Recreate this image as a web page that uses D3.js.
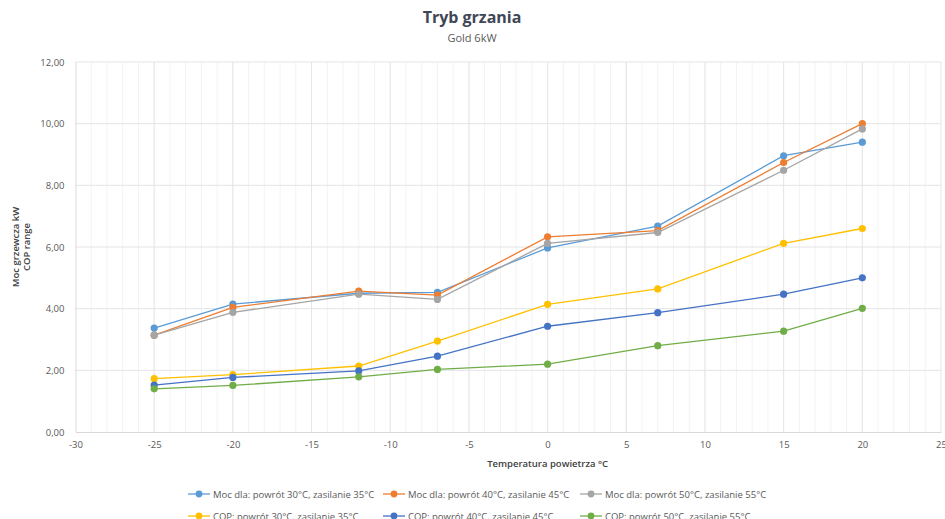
<!DOCTYPE html>
<html><head><meta charset="utf-8">
<script src="https://cdn.jsdelivr.net/npm/d3@7"></script>
<style>
body{margin:0;background:#fff;}
svg{display:block;font-family:"Open Sans",sans-serif;}
</style></head>
<body>
<svg id="c" width="945" height="519"></svg>
<script>
const temps = [-25, -20, -12, -7, 0, 7, 15, 20];
const seriesNames = [
  "Moc dla: powrót 30°C, zasilanie 35°C",
  "Moc dla: powrót 40°C, zasilanie 45°C",
  "Moc dla: powrót 50°C, zasilanie 55°C",
  "COP: powrót 30°C, zasilanie 35°C",
  "COP: powrót 40°C, zasilanie 45°C",
  "COP: powrót 50°C, zasilanie 55°C"
];
const moc30 = [3.37, 4.15, 4.50, 4.53, 5.97, 6.68, 8.96, 9.40];
const moc40 = [3.14, 4.04, 4.57, 4.44, 6.33, 6.53, 8.74, 10.00];
const moc50 = [3.14, 3.88, 4.47, 4.30, 6.12, 6.47, 8.49, 9.83];
const cop30 = [1.73, 1.86, 2.14, 2.95, 4.14, 4.64, 6.12, 6.60];
const cop40 = [1.52, 1.77, 1.98, 2.46, 3.43, 3.87, 4.47, 5.00];
const cop50 = [1.40, 1.51, 1.79, 2.03, 2.20, 2.80, 3.27, 4.01];
const colors = ["#5B9BD5", "#ED7D31", "#A5A5A5", "#FFC000", "#4472C4", "#70AD47"];
const xTicks = [-30, -25, -20, -15, -10, -5, 0, 5, 10, 15, 20, 25];
const yTicks = [0, 2, 4, 6, 8, 10, 12];

const allSeries = [moc30, moc40, moc50, cop30, cop40, cop50];
const svg = d3.select("#c");
const L = 75.5, R = 941, T = 62, B = 432;
const x = d3.scaleLinear().domain([-30, 25]).range([L, R]);
const y = d3.scaleLinear().domain([0, 12]).range([B, T]);
const fmt = v => d3.format(".2f")(v).replace(".", ",");

// title
svg.append("text").attr("x", 472).attr("y", 23).attr("text-anchor", "middle")
  .attr("font-size", 16).attr("font-weight", "bold").attr("fill", "#3F4756").text("Tryb grzania");
svg.append("text").attr("x", 472).attr("y", 42).attr("text-anchor", "middle")
  .attr("font-size", 11).attr("fill", "#595959").text("Gold 6kW");

// grid
const g = svg.append("g");
g.selectAll("line.minor").data(d3.range(-29, 25)).enter().append("line")
  .attr("x1", d => x(d)).attr("x2", d => x(d)).attr("y1", T).attr("y2", B)
  .attr("stroke", "#F3F3F3").attr("stroke-width", 1);
g.selectAll("line.majx").data(xTicks.slice(1)).enter().append("line")
  .attr("x1", d => x(d)).attr("x2", d => x(d)).attr("y1", T).attr("y2", B)
  .attr("stroke", "#E6E6E6").attr("stroke-width", 1);
g.selectAll("line.majy").data(yTicks.slice(1)).enter().append("line")
  .attr("x1", L).attr("x2", R).attr("y1", d => y(d)).attr("y2", d => y(d))
  .attr("stroke", "#E4E4E4").attr("stroke-width", 1);

// axes
const xAxis = d3.axisBottom(x).tickValues(xTicks).tickSize(0).tickPadding(9).tickFormat(d => String(d));
const xa = svg.append("g").attr("transform", `translate(0,${B})`).call(xAxis);
xa.select(".domain").attr("stroke", "#D9D9D9");
xa.selectAll("text").attr("font-size", 9.5).attr("fill", "#595959").attr("font-family", "Open Sans");
const yAxis = d3.axisLeft(y).tickValues(yTicks).tickSize(0).tickPadding(11).tickFormat(fmt);
const ya = svg.append("g").attr("transform", `translate(${L},0)`).call(yAxis);
ya.select(".domain").attr("stroke", "#D9D9D9");
ya.selectAll("text").attr("font-size", 9.5).attr("fill", "#595959").attr("font-family", "Open Sans");

// axis titles
svg.append("text").attr("x", x(0)).attr("y", 467).attr("text-anchor", "middle")
  .attr("font-size", 9.5).attr("font-weight", "600").attr("fill", "#404040").text("Temperatura powietrza °C");
const yt = svg.append("text").attr("transform", "translate(19,247) rotate(-90)")
  .attr("text-anchor", "middle").attr("font-size", 9.5).attr("font-weight", "600").attr("fill", "#404040");
yt.append("tspan").attr("x", 0).attr("dy", 0).text("Moc grzewcza kW");
yt.append("tspan").attr("x", 0).attr("dy", 11).text("COP range");

// series
const line = d3.line().x((d, i) => x(temps[i])).y(d => y(d));
allSeries.forEach((s, k) => {
  svg.append("path").datum(s).attr("d", line).attr("fill", "none")
    .attr("stroke", colors[k]).attr("stroke-width", 1.3);
  svg.selectAll(null).data(s).enter().append("circle")
    .attr("cx", (d, i) => x(temps[i])).attr("cy", d => y(d)).attr("r", 3.6)
    .attr("fill", colors[k]);
});

// legend
const colX = [188, 383, 580];
const rowY = [494, 516];
seriesNames.forEach((n, k) => {
  const cx = colX[k % 3], cy = rowY[Math.floor(k / 3)];
  const lg = svg.append("g");
  lg.append("line").attr("x1", cx).attr("x2", cx + 22).attr("y1", cy).attr("y2", cy)
    .attr("stroke", colors[k]).attr("stroke-width", 1.3);
  lg.append("circle").attr("cx", cx + 11).attr("cy", cy).attr("r", 3.4).attr("fill", colors[k]);
  lg.append("text").attr("x", cx + 25).attr("y", cy + 3.5).attr("font-size", 9.5)
    .attr("fill", "#595959").text(n);
});
</script>
</body></html>
